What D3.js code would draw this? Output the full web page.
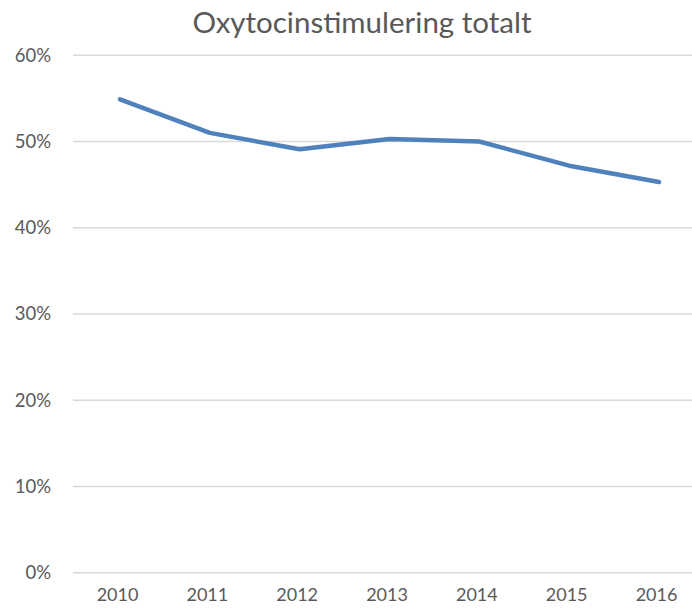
<!DOCTYPE html>
<html>
<head>
<meta charset="utf-8">
<script src="https://cdn.jsdelivr.net/npm/d3@7"></script>
<style>
  body { margin: 0; background: white; }
</style>
</head>
<body>
<div id="container"></div>
<script>
let w = 692;
let h = 611;

let years = ["2010", "2011", "2012", "2013", "2014", "2015", "2016"];
let values = [0.549, 0.510, 0.491, 0.503, 0.500, 0.472, 0.453];
let yTicks = [0, 0.1, 0.2, 0.3, 0.4, 0.5, 0.6];

let textColor = "#595959";
let font = "Lato, 'Open Sans', sans-serif";

let viz = d3.select("#container")
  .append("svg")
    .attr("width", w)
    .attr("height", h)
    .style("background-color", "white")
;

// plot area runs a bit past the right edge, like the cropped original
let x = d3.scalePoint()
    .domain(years)
    .range([118, 657])
;

let y = d3.scaleLinear()
    .domain([0, 0.6])
    .range([572.7, 55.3])
;

// gridlines
viz.append("g")
  .selectAll("line")
  .data(yTicks)
  .join("line")
    .attr("x1", 73)
    .attr("x2", w)
    .attr("y1", d => y(d))
    .attr("y2", d => y(d))
    .style("stroke", "#d9d9d9")
    .style("stroke-width", 1.5)
;

// y axis labels
let yAxis = d3.axisLeft(y)
    .tickValues(yTicks)
    .tickFormat(d3.format(".0%"))
    .tickSize(0)
    .tickPadding(0)
;

viz.append("g")
    .attr("transform", "translate(51,0)")
    .call(yAxis)
    .call(g => g.select(".domain").remove())
    .call(g => g.selectAll("text")
        .attr("fill", textColor)
        .style("font-size", "18.5px")
        .style("font-family", font))
;

// x axis labels
let xAxis = d3.axisBottom(x)
    .tickSize(0)
    .tickPadding(0)
;

viz.append("g")
    .attr("transform", "translate(-1,588)")
    .call(xAxis)
    .call(g => g.select(".domain").remove())
    .call(g => g.selectAll("text")
        .attr("fill", textColor)
        .style("font-size", "18px")
        .style("font-family", font))
;

// the line
let line = d3.line()
    .x((d, i) => x(years[i]) + 2)
    .y(d => y(d))
;

viz.append("path")
    .datum(values)
    .attr("d", line)
    .attr("fill", "none")
    .style("stroke", "#4f81bd")
    .style("stroke-width", 4.5)
    .style("stroke-linejoin", "round")
    .style("stroke-linecap", "round")
;

// title
viz.append("text")
    .text("Oxytocinstimulering totalt")
    .attr("x", 362)
    .attr("y", 33)
    .attr("text-anchor", "middle")
    .attr("fill", textColor)
    .style("font-size", "29.5px")
    .style("font-family", font)
;
</script>
</body>
</html>
